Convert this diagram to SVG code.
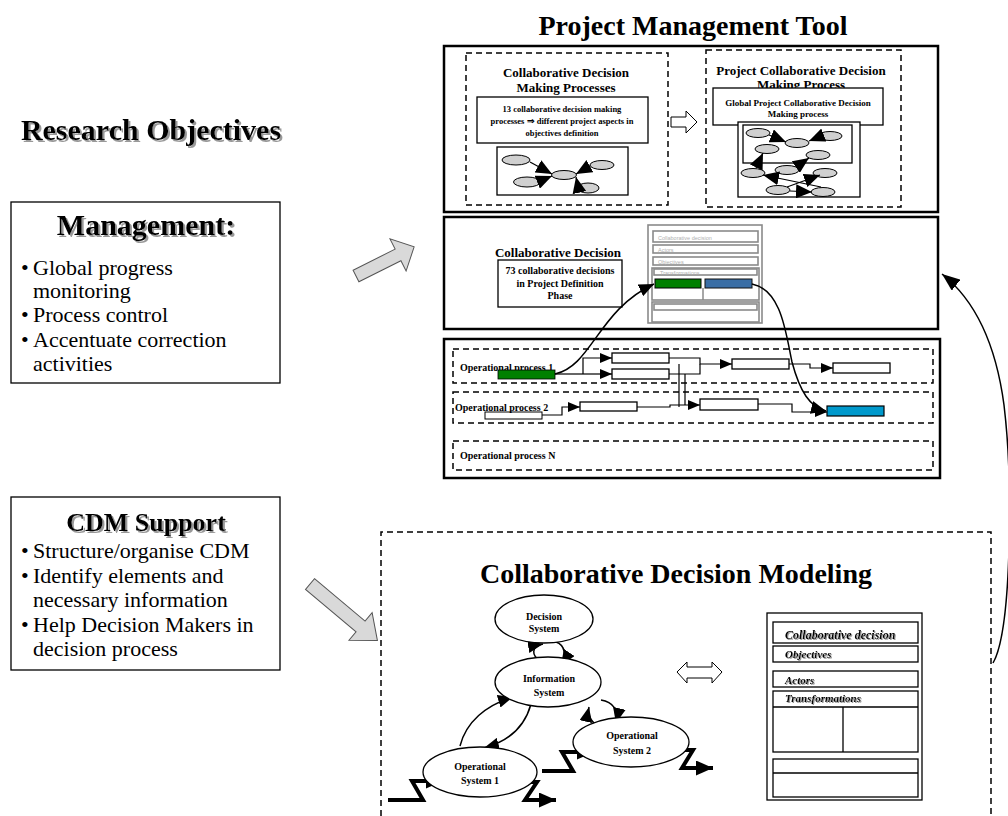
<svg xmlns="http://www.w3.org/2000/svg" width="1008" height="816" viewBox="0 0 1008 816">
<style>
text{font-family:"Liberation Serif","Times New Roman",serif;fill:#000}
.b{font-weight:bold}
.bi{font-weight:bold;font-style:italic}
.box{fill:#fff;stroke:#000;stroke-width:1.3}
.thick{fill:#fff;stroke:#000;stroke-width:2.5}
.dash{fill:none;stroke:#000;stroke-width:1.5;stroke-dasharray:6 4}
.ln{fill:none;stroke:#000;stroke-width:1.2}
.cv{fill:none;stroke:#000;stroke-width:1.5}
.zz{fill:none;stroke:#000;stroke-width:4}
.el{fill:#fff;stroke:#000;stroke-width:1.3}
.gel{fill:#d0d0d0;stroke:#000;stroke-width:1}
.gr{fill:#fff;stroke:#8a8a8a;stroke-width:1.6}
.ft{font-size:5.5px;fill:#b0b0b0;font-family:"Liberation Sans",Arial,sans-serif}
.garr{fill:#d9d9d9;stroke:#555;stroke-width:1}
.hol{fill:#fff;stroke:#000;stroke-width:1}
</style>
<defs>
<marker id="ah" viewBox="0 0 12 10" refX="12" refY="5" markerWidth="12" markerHeight="10" orient="auto" markerUnits="userSpaceOnUse"><path d="M0,0 L12,5 L0,10 z" fill="#000"/></marker>
<marker id="big" viewBox="0 0 16 14" refX="16" refY="7" markerWidth="16" markerHeight="14" orient="auto" markerUnits="userSpaceOnUse"><path d="M0,0 L16,7 L0,14 z" fill="#000"/></marker>
<marker id="cvh" viewBox="0 0 15 13" refX="15" refY="6.5" markerWidth="15" markerHeight="13" orient="auto" markerUnits="userSpaceOnUse"><path d="M0,0 L15,6.5 L0,13 z" fill="#000"/></marker>
<marker id="zzh" viewBox="0 0 17 15" refX="17" refY="7.5" markerWidth="17" markerHeight="15" orient="auto" markerUnits="userSpaceOnUse"><path d="M0,0 L17,7.5 L0,15 z" fill="#000"/></marker>
<marker id="rh" viewBox="0 0 18 14" refX="18" refY="7" markerWidth="18" markerHeight="14" orient="auto" markerUnits="userSpaceOnUse"><path d="M0,0 L18,7 L0,14 z" fill="#000"/></marker>
<filter id="sh" x="-5%" y="-10%" width="115%" height="140%"><feDropShadow dx="2" dy="2" stdDeviation="0.6" flood-color="#999" flood-opacity="1"/></filter>
<filter id="sh2" x="-5%" y="-10%" width="115%" height="140%"><feDropShadow dx="1" dy="1" stdDeviation="0.4" flood-color="#999" flood-opacity="1"/></filter>
</defs>
<rect width="1008" height="816" fill="#fff"/>

<text class="b" x="693" y="35" font-size="28" text-anchor="middle">Project Management Tool</text>
<text class="b" x="151" y="140" font-size="30" text-anchor="middle" filter="url(#sh)">Research Objectives</text>

<g id="management">
<rect class="box" x="11" y="202" width="269" height="181"/>
<text class="b" x="146" y="235" font-size="30" text-anchor="middle" filter="url(#sh)">Management:</text>
<text font-size="22"><tspan x="21" y="275">•</tspan><tspan x="33" y="275">Global progress</tspan><tspan x="33" y="298">monitoring</tspan><tspan x="21" y="322">•</tspan><tspan x="33" y="322">Process control</tspan><tspan x="21" y="347">•</tspan><tspan x="33" y="347">Accentuate correction</tspan><tspan x="33" y="371">activities</tspan></text>
</g>

<g id="cdm-support">
<rect class="box" x="11" y="497" width="269" height="173"/>
<text class="b" x="146" y="531" font-size="26" text-anchor="middle" filter="url(#sh)">CDM Support</text>
<text font-size="22"><tspan x="21" y="558">•</tspan><tspan x="33" y="558">Structure/organise CDM</tspan><tspan x="21" y="583">•</tspan><tspan x="33" y="583">Identify elements and</tspan><tspan x="33" y="607">necessary information</tspan><tspan x="21" y="632">•</tspan><tspan x="33" y="632">Help Decision Makers in</tspan><tspan x="33" y="656">decision process</tspan></text>
</g>

<g id="arrow-mgmt"><polygon class="garr" transform="translate(356,276) rotate(-26.6)" points="0,-6.5 47,-6.5 47,-18 65,0 47,18 47,6.5 0,6.5"/></g>
<g id="arrow-cdm"><polygon class="garr" transform="translate(310,584) rotate(40)" points="0,-7 66,-7 66,-18 88,0 66,18 66,7 0,7"/></g>

<g id="pmt-top">
<rect class="thick" x="444" y="46" width="494" height="166"/>
<g id="cdm-processes">
<rect class="dash" x="466" y="53" width="202" height="152"/>
<text class="b" font-size="13" text-anchor="middle"><tspan x="566" y="77">Collaborative Decision</tspan><tspan x="566" y="92">Making Processes</tspan></text>
<rect class="box" x="477" y="97" width="171" height="46"/>
<text class="b" font-size="8.5" text-anchor="middle"><tspan x="562" y="112">13 collaborative decision making</tspan><tspan x="562" y="124">processes ⇒ different project aspects in</tspan><tspan x="562" y="136">objectives definition</tspan></text>
<rect class="box" x="497" y="147" width="131" height="48"/>
<ellipse class="gel" cx="516" cy="160" rx="14" ry="5"/>
<ellipse class="gel" cx="527" cy="182" rx="13.5" ry="5"/>
<ellipse class="gel" cx="564" cy="175" rx="12.5" ry="4.5"/>
<ellipse class="gel" cx="602" cy="165" rx="12" ry="4.5"/>
<ellipse class="gel" cx="588" cy="188" rx="11" ry="5"/>
<line class="ln" x1="530" y1="162" x2="552" y2="174" marker-end="url(#big)"/>
<line class="ln" x1="540" y1="181" x2="552" y2="176" marker-end="url(#big)"/>
<line class="ln" x1="590" y1="166" x2="576" y2="174" marker-end="url(#big)"/>
<line class="ln" x1="578" y1="186" x2="576" y2="177" marker-end="url(#big)"/>
</g>
<polygon class="hol" points="671,117 686,117 686,111 697,122 686,133 686,127 671,127"/>
<g id="project-cdm">
<rect class="dash" x="706" y="50" width="195" height="157"/>
<text class="b" font-size="13" text-anchor="middle"><tspan x="801" y="75">Project Collaborative Decision</tspan><tspan x="801" y="89">Making Process</tspan></text>
<rect class="box" x="713" y="88" width="170" height="37"/>
<text class="b" font-size="9" text-anchor="middle"><tspan x="798" y="106">Global Project Collaborative Decision</tspan><tspan x="798" y="117">Making process</tspan></text>
<rect class="box" x="738" y="122" width="122" height="75"/>
<rect class="box" x="743" y="125" width="109" height="38" fill="none"/>
<ellipse class="gel" cx="758" cy="133" rx="12" ry="4.5"/>
<ellipse class="gel" cx="767" cy="149" rx="12" ry="4.5"/>
<ellipse class="gel" cx="797" cy="143" rx="12" ry="4.5"/>
<ellipse class="gel" cx="830" cy="136" rx="12" ry="4.5"/>
<ellipse class="gel" cx="818" cy="155" rx="12" ry="4.5"/>
<ellipse class="gel" cx="753" cy="173" rx="12" ry="4.5"/>
<ellipse class="gel" cx="787" cy="170" rx="12" ry="4.5"/>
<ellipse class="gel" cx="825" cy="173" rx="12" ry="4.5"/>
<ellipse class="gel" cx="778" cy="190" rx="12" ry="4.5"/>
<ellipse class="gel" cx="823" cy="192" rx="12" ry="4.5"/>
<line class="ln" x1="769" y1="135" x2="786" y2="142" marker-end="url(#big)"/>
<line class="ln" x1="819" y1="137" x2="809" y2="141" marker-end="url(#big)"/>
<line class="ln" x1="756" y1="168" x2="763" y2="153" marker-end="url(#big)"/>
<line class="ln" x1="796" y1="167" x2="809" y2="158" marker-end="url(#big)"/>
<line class="ln" x1="821" y1="187" x2="763" y2="175" marker-end="url(#big)"/>
<line class="ln" x1="787" y1="187" x2="820" y2="175" marker-end="url(#big)"/>
<line class="ln" x1="790" y1="191" x2="812" y2="192" marker-end="url(#big)"/>
</g>
</g>

<g id="pmt-middle">
<rect class="thick" x="444" y="217" width="494" height="112"/>
<text class="b" x="558" y="257" font-size="13" text-anchor="middle">Collaborative Decision</text>
<rect class="box" x="498" y="260" width="124" height="47"/>
<text class="b" font-size="10" text-anchor="middle"><tspan x="560" y="274">73 collaborative decisions</tspan><tspan x="560" y="287">in Project Definition</tspan><tspan x="560" y="299">Phase</tspan></text>
<g id="mini-form">
<rect class="gr" x="648" y="225" width="114" height="98" stroke-width="2"/>
<rect class="gr" x="653" y="231" width="105" height="11"/>
<text class="ft" x="658" y="240">Collaborative decision</text>
<rect class="gr" x="653" y="245" width="105" height="8"/>
<text class="ft" x="658" y="252">Actors</text>
<rect class="gr" x="653" y="257" width="105" height="8"/>
<text class="ft" x="658" y="264">Objectives</text>
<rect class="gr" x="652" y="268" width="107" height="32" stroke-width="2"/>
<rect class="gr" x="654" y="269" width="103" height="6"/>
<text class="ft" x="660" y="275">Transformations</text>
<line x1="703" y1="288" x2="703" y2="300" stroke="#8a8a8a" stroke-width="1.5"/>
<rect x="655" y="279" width="46" height="9" fill="#008000" stroke="#000" stroke-width="1"/>
<rect x="705" y="279" width="47" height="9" fill="#3a6ea5" stroke="#111" stroke-width="1"/>
<rect class="gr" x="652" y="302" width="107" height="20" stroke-width="2"/>
<rect class="gr" x="654" y="304" width="103" height="6"/>
</g>
</g>

<g id="pmt-operational">
<rect class="thick" x="444" y="339" width="496" height="139"/>
<rect class="dash" x="453" y="349" width="480" height="34"/>
<rect class="dash" x="453" y="392" width="480" height="31"/>
<rect class="dash" x="453" y="441" width="480" height="29"/>
<text class="b" x="460" y="371" font-size="10">Operational process 1</text>
<rect x="498" y="370" width="57" height="9" fill="#008000" stroke="#000" stroke-width="0.8"/>
<text class="b" x="455" y="411" font-size="10">Operational process 2</text>
<rect x="485" y="412" width="57" height="7" fill="none" stroke="#000" stroke-width="1"/>
<text class="b" x="460" y="459" font-size="10">Operational process N</text>
<rect class="box" x="612" y="353" width="57" height="10"/>
<rect class="box" x="612" y="369" width="57" height="10"/>
<rect class="box" x="732" y="359" width="57" height="10"/>
<rect class="box" x="833" y="363" width="57" height="10"/>
<rect class="box" x="580" y="402" width="57" height="9"/>
<rect class="box" x="700" y="399" width="58" height="11"/>
<rect x="827" y="406" width="57" height="10" fill="#0099cc" stroke="#000" stroke-width="1.2"/>
</g>

<g id="connectors">
<path class="ln" d="M555,374 L583,374"/>
<path class="ln" d="M583,374 L583,358 L612,358" marker-end="url(#ah)"/>
<path class="ln" d="M583,374 L612,374" marker-end="url(#ah)"/>
<path class="ln" d="M669,358 L700,358 L700,364 L732,364" marker-end="url(#ah)"/>
<path class="ln" d="M669,374 L700,374 L700,364"/>
<path class="ln" d="M789,364 L810,364 L810,368 L833,368" marker-end="url(#ah)"/>
<path class="ln" d="M542,415 L562,415 L562,407 L580,407" marker-end="url(#ah)"/>
<path class="ln" d="M637,407 L670,407 L670,405 L700,405" marker-end="url(#ah)"/>
<path class="ln" d="M679,364 L679,407"/>
<path class="ln" d="M685,374 L685,405"/>
<path class="ln" d="M758,404 L792,404 L792,412 L827,412" marker-end="url(#ah)"/>
<path class="cv" d="M555,374 C592,366 598,310 654,284" marker-end="url(#cvh)"/>
<path class="cv" d="M752,284 C782,290 786,335 792,362 C800,392 810,407 826,411" marker-end="url(#cvh)"/>
<path class="cv" d="M993,663 C1012,630 1013,480 1004,405 C996,345 975,300 942,274" stroke-width="2" marker-end="url(#rh)"/>
<path class="cv" d="M541,661 C531,656 531,646 543,644" marker-end="url(#cvh)"/>
<path class="cv" d="M556,642 C565,645 567,656 561,665" marker-end="url(#cvh)"/>
<path class="cv" d="M460,746 C466,722 486,705 513,697" marker-end="url(#cvh)"/>
<path class="cv" d="M531,704 C525,726 510,741 484,748" marker-end="url(#cvh)"/>
<path class="cv" d="M601,700 C613,702 619,710 616,723" marker-end="url(#cvh)"/>
<path class="cv" d="M601,727 C592,724 587,716 589,707" marker-end="url(#cvh)"/>
<path class="zz" d="M388,800 L423,800 L412,781 L443,781" marker-end="url(#zzh)"/>
<path class="zz" d="M518,782 L537,782 L525,800 L556,800" marker-end="url(#zzh)"/>
<path class="zz" d="M542,771 L573,771 L562,752 L594,752" marker-end="url(#zzh)"/>
<path class="zz" d="M673,750 L693,750 L682,768 L713,768" marker-end="url(#zzh)"/>
</g>

<g id="cd-modeling">
<path class="dash" d="M381,816 L381,532 L991,532 L991,816"/>
<text class="b" x="676" y="583" font-size="28" text-anchor="middle">Collaborative Decision Modeling</text>
<g id="decision-system"><ellipse class="el" cx="544" cy="619" rx="49" ry="24"/><text class="b" font-size="10" text-anchor="middle"><tspan x="544" y="620">Decision</tspan><tspan x="544" y="632">System</tspan></text></g>
<g id="information-system"><ellipse class="el" cx="548" cy="682" rx="53" ry="25"/><text class="b" font-size="10" text-anchor="middle"><tspan x="549" y="682">Information</tspan><tspan x="549" y="696">System</tspan></text></g>
<g id="operational-system-1"><ellipse class="el" cx="480" cy="772" rx="57" ry="25"/><text class="b" font-size="10" text-anchor="middle"><tspan x="480" y="770">Operational</tspan><tspan x="480" y="784">System 1</tspan></text></g>
<g id="operational-system-2"><ellipse class="el" cx="631" cy="742" rx="58" ry="25"/><text class="b" font-size="10" text-anchor="middle"><tspan x="632" y="739">Operational</tspan><tspan x="632" y="754">System 2</tspan></text></g>
<polygon class="hol" points="677,672 687,662 687,667 712,667 712,662 722,672 712,683 712,678 687,678 687,683"/>
<g id="cd-form">
<rect class="box" x="767" y="613" width="155" height="187"/>
<rect class="box" x="773" y="622" width="145" height="21"/>
<text class="bi" x="785" y="639" font-size="12" filter="url(#sh2)">Collaborative decision</text>
<rect class="box" x="773" y="646" width="145" height="16"/>
<text class="bi" x="785" y="658" font-size="11" filter="url(#sh2)">Objectives</text>
<rect class="box" x="773" y="671" width="145" height="16"/>
<text class="bi" x="785" y="684" font-size="11" filter="url(#sh2)">Actors</text>
<rect class="box" x="773" y="691" width="145" height="61" stroke-width="2.2"/>
<line x1="773" y1="707" x2="918" y2="707" stroke="#000" stroke-width="1.3"/>
<text class="bi" x="785" y="702" font-size="11" filter="url(#sh2)">Transformations</text>
<line x1="843" y1="707" x2="843" y2="752" stroke="#000" stroke-width="1.3"/>
<rect class="box" x="773" y="759" width="145" height="38" stroke-width="2.2"/>
<line x1="773" y1="773" x2="918" y2="773" stroke="#000" stroke-width="1.3"/>
</g>
</g>
</svg>
